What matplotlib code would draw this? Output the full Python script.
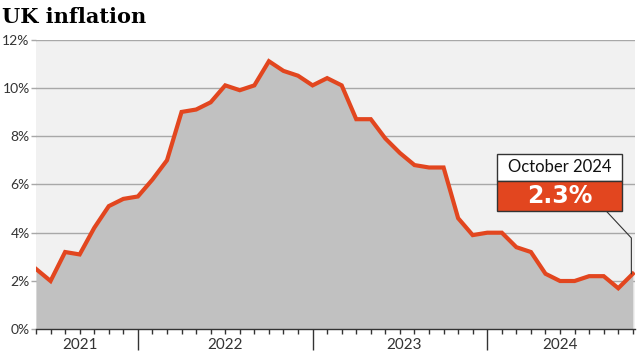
import numpy as np
import matplotlib
matplotlib.use("Agg")
from matplotlib import pyplot as plt
from matplotlib.patches import Rectangle

# monthly CPI inflation (%), one value per month tick
cpi = [2.5, 2.0, 3.2, 3.1, 4.2, 5.1, 5.4, 5.5, 6.2, 7.0, 9.0, 9.1,
       9.4, 10.1, 9.9, 10.1, 11.1, 10.7, 10.5, 10.1, 10.4, 10.1, 8.7, 8.7,
       7.9, 7.3, 6.8, 6.7, 6.7, 4.6, 3.9, 4.0, 4.0, 3.4, 3.2, 2.3,
       2.0, 2.0, 2.2, 2.2, 1.7, 2.3]
years = ['2021', '2022', '2023', '2024']
year_starts = [7, 19, 31]          # index of the year-boundary ticks
year_label_pos = [3, 13, 25.3, 36]
yticks = [0, 2, 4, 6, 8, 10, 12]
callout_title = 'October 2024'

red = '#e2461f'
bg = '#f1f1f1'
fill = '#c1c1c1'
grid = '#a8a8a8'
W, H = 640, 360
px = 72 / 100   # points per pixel

x = np.arange(len(cpi))

fig = plt.figure(figsize=(6.4, 3.6), dpi=100)
ax = fig.add_axes([36/W, 1 - 329.3/H, (635-36)/W, (329.3-39.5)/H])
ax.set_facecolor(bg)
ax.set_xlim(0, len(cpi) - 1 + 0.15)
ax.set_ylim(0, 12)

for v in yticks[1:]:
    ax.axhline(v, color=grid, lw=1, zorder=1)
ax.fill_between(x, cpi, 0, color=fill, lw=0, zorder=2)
ax.plot(x, cpi, color=red, lw=3, solid_joinstyle='miter', zorder=4)

for s in ['top', 'right', 'left']:
    ax.spines[s].set_visible(False)
ax.spines['bottom'].set_color('#333333')
ax.spines['bottom'].set_linewidth(1)
ax.spines['bottom'].set_zorder(5)

lab_font = dict(family=['Lato', 'DejaVu Sans'])
ax.set_yticks(yticks)
ax.set_yticklabels([f'{v}%' for v in yticks], fontsize=10, color='#333333', **lab_font)
ax.tick_params(axis='y', length=5*px, width=1, color=grid, pad=1)

ax.set_xticks(x, minor=True)
ax.set_xticks(year_starts)
ax.set_xticklabels([])
ax.tick_params(axis='x', which='minor', length=5*px, width=1, color='#333333')
ax.tick_params(axis='x', which='major', length=21*px, width=1, color='#333333')
for lab, p in zip(years, year_label_pos):
    ax.text(p, -0.66, lab, ha='center', va='center', fontsize=11, color='#333333', **lab_font)

fig.text(2/W, 1 - 17/H, 'UK inflation', fontsize=15, fontweight='bold',
         family='DejaVu Serif', va='center', ha='left')

# callout box for latest value
last = len(cpi) - 1
bx0, bx1 = 31.64, 40.29
by0, bmid, by1 = 4.9, 6.15, 7.26
ax.add_patch(Rectangle((bx0, bmid), bx1 - bx0, by1 - bmid, facecolor='white',
                       edgecolor='#333333', lw=1, zorder=6, clip_on=False))
ax.add_patch(Rectangle((bx0, by0), bx1 - bx0, bmid - by0, facecolor=red,
                       edgecolor='#333333', lw=1, zorder=6, clip_on=False))
ax.text((bx0 + bx1) / 2, (bmid + by1) / 2, callout_title, ha='center', va='center',
        fontsize=12, color='#111111', zorder=7, **lab_font)
ax.text((bx0 + bx1) / 2, (by0 + bmid) / 2 - 0.02, f'{cpi[last]}%', ha='center',
        va='center', fontsize=17, fontweight='bold', color='white', zorder=7,
        family='DejaVu Sans')
ax.plot([39.17, last - 0.1, last - 0.1], [by0, 3.78, cpi[last]],
        color='#333333', lw=0.8, zorder=5, clip_on=False)

fig.savefig('out.png', dpi=100)
